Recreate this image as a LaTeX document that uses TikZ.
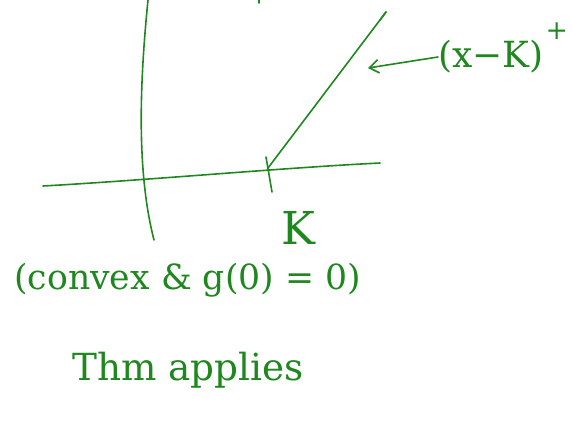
\documentclass[tikz,border=0pt]{standalone}
\usepackage{fontspec}
\setmainfont{DejaVu Serif}
\usetikzlibrary{arrows.meta}
\definecolor{ink}{RGB}{30,135,30}
\begin{document}
\begin{tikzpicture}[x=0.75pt,y=-0.75pt,
  pen/.style={draw=ink,line width=1.2pt,line cap=round},
  lbl/.style={text=ink,inner sep=0pt,font=\fontsize{26}{28}\selectfont}]
\useasboundingbox (0,0) rectangle (572,425);
% axes
\draw[pen] (148,0) .. controls (140,80) and (136,170) .. (154,240);
\draw[pen] (43,186) .. controls (150,180) and (280,168) .. (380,163);
\draw[pen] (259,0) -- (259,3);
% tick at K
\coordinate (k) at (268,168);
\draw[pen] (266,157) -- (272,192);
% payoff line
\coordinate (top) at (386,12);
\draw[pen] (k) -- (top);
\draw[pen] (top) -- (380,20);
% labels
\node[lbl,font=\fontsize{34}{36}\selectfont] (K) at (298,228) {K};
\node[lbl,font=\fontsize{27}{30}\selectfont,anchor=west] (pay) at (438,57) {(x−K)};
\node[lbl,font=\fontsize{20}{22}\selectfont,anchor=south west] (plus) at ([xshift=1pt]pay.north east) {+};
\coordinate (tip) at (368,68);
\draw[pen,-{Straight Barb[length=7pt,width=10pt]}] (pay.west) -- (tip);
\node[lbl,anchor=west] (cond) at (14,280) {(convex \& g(0) = 0)};
\node[lbl,font=\fontsize{28}{30}\selectfont,anchor=west] (thm) at (72,370) {Thm applies};
\end{tikzpicture}
\end{document}
